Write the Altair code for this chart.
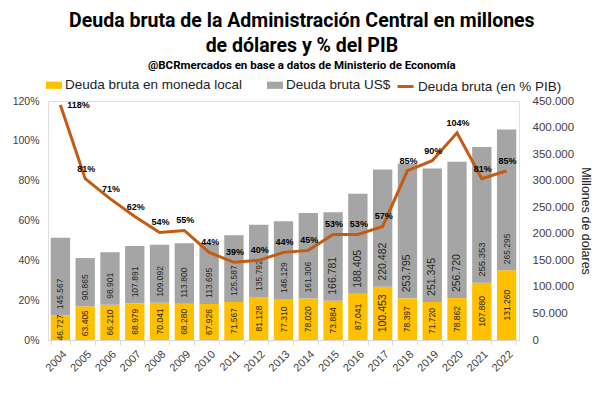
import altair as alt
import pandas as pd

years = [str(y) for y in range(2004, 2023)]
local = [46727, 63405, 66210, 68979, 70041, 68280, 67926, 71567, 81128, 77310,
         78020, 73884, 87041, 100453, 78397, 71720, 78862, 107880, 131260]
usd = [145567, 90865, 98901, 107891, 109092, 113800, 113695, 125587, 135792, 146129,
       161306, 166781, 188405, 220482, 253795, 251345, 256720, 255353, 265295]
pct = [118, 81, 71, 62, 54, 55, 44, 39, 40, 44, 45, 53, 53, 57, 85, 90, 104, 81, 85]

S_LOCAL = "Deuda bruta en moneda local"
S_USD = "Deuda bruta US$"
S_PCT = "Deuda bruta (en % PIB)"

wide = pd.DataFrame({"year": years, "yr": [int(y) for y in years],
                     "local": local, "usd": usd,
                     "pct": [p / 100 for p in pct], "series": S_PCT})

rows = []
for y, l, u in zip(years, local, usd):
    rows.append({"year": y, "series": S_LOCAL, "value": l, "ord": 0})
    rows.append({"year": y, "series": S_USD, "value": u, "ord": 1})
long = pd.DataFrame(rows)

FONT = "Liberation Sans"
TFONT = "Roboto"

xenc = alt.X("year:N", title=None,
             scale=alt.Scale(paddingInner=0.22, paddingOuter=0.11),
             axis=alt.Axis(labelAngle=-45, tickBand="extent", labelFontSize=11,
                           labelFont=FONT, labelColor="#404040", domainColor="#D9D9D9",
                           tickColor="#D9D9D9", tickSize=5, labelPadding=3))

leg_common = dict(orient="none", title=None, direction="horizontal",
                  labelFont=FONT, labelFontSize=13.5, labelColor="#222", labelLimit=300,
                  columnPadding=24, labelOffset=3, padding=0, legendY=-24)

color = alt.Color("series:N",
                  scale=alt.Scale(domain=[S_LOCAL, S_USD], range=["#FFC000", "#A5A5A5"]),
                  legend=alt.Legend(symbolType="M-1,-0.45H1V0.45H-1Z", symbolSize=256,
                                    symbolStrokeWidth=0, legendX=-2, **leg_common))

yright = alt.Scale(domain=[0, 450000])
AX_R = alt.Axis(orient="right", values=list(range(0, 450001, 50000)),
                labelExpr="replace(format(datum.value, ','), ',', '.')",
                title="Millones de dolares", titleFont=FONT, titleFontSize=12.5,
                titleFontWeight="normal", titleColor="#222", titlePadding=5,
                grid=False, domain=False, ticks=False, labelFont=FONT,
                labelFontSize=11.5, labelColor="#404040", labelPadding=13,
                labelOverlap=False)
left = alt.Scale(domain=[0, 1.2])
AX_L = alt.Axis(orient="left", format=".0%", values=[0, 0.2, 0.4, 0.6, 0.8, 1.0, 1.2],
                title=None, grid=False, domain=False, ticks=False,
                labelFont=FONT, labelFontSize=10.5, labelColor="#404040",
                labelPadding=9, labelOverlap=False)

bars = alt.Chart(long).mark_bar().encode(
    x=xenc,
    y=alt.Y("value:Q", stack="zero", scale=yright, axis=AX_R, title="Millones de dolares"),
    color=color,
    order=alt.Order("ord:Q"),
)

local_txt = alt.Chart(wide).transform_calculate(
    lab="replace(format(datum.local, ','), ',', '.')", ym="datum.local / 2",
    fs="datum.yr == 2017 ? 10.5 : 8.5"
).mark_text(angle=270, align="center", baseline="middle", font=FONT, color="#262626").encode(
    x=xenc, y=alt.Y("ym:Q", scale=yright, axis=AX_R, title="Millones de dolares"),
    text="lab:N", size=alt.Size("fs:Q", scale=None))
usd_txt = alt.Chart(wide).transform_calculate(
    lab="replace(format(datum.usd, ','), ',', '.')",
    fs="datum.yr >= 2015 && datum.yr <= 2020 ? 10.5 : (datum.yr == 2021 ? 9.5 : 8.5)"
).mark_text(angle=270, align="left", baseline="middle", dx=6, font=FONT, color="#262626").encode(
    x=xenc, y=alt.Y("local:Q", scale=yright, axis=AX_R, title="Millones de dolares"),
    text="lab:N", size=alt.Size("fs:Q", scale=None))

line = alt.Chart(wide).mark_line(strokeWidth=3).encode(
    x=xenc,
    y=alt.Y("pct:Q", scale=left, axis=AX_L, title=None),
    stroke=alt.Stroke("series:N", scale=alt.Scale(domain=[S_PCT], range=["#C55A11"]),
                      legend=alt.Legend(symbolType="stroke", symbolSize=256,
                                        symbolStrokeWidth=3, legendX=348, **leg_common)),
)
pct_lab = alt.Chart(wide).transform_calculate(lab="format(datum.pct, '.0%')")
pct_txt = pct_lab.transform_filter("datum.yr > 2004").mark_text(
    font=FONT, fontWeight="bold", fontSize=9, dy=-10, dx=1, color="black").encode(
    x=xenc, y=alt.Y("pct:Q", scale=left, axis=AX_L, title=None), text="lab:N")
pct_txt0 = pct_lab.transform_filter("datum.yr == 2004").mark_text(
    font=FONT, fontWeight="bold", fontSize=9, dx=18, dy=0, color="black").encode(
    x=xenc, y=alt.Y("pct:Q", scale=left, axis=AX_L, title=None), text="lab:N")

left_group = alt.layer(bars, local_txt, usd_txt)
right_group = alt.layer(line, pct_txt, pct_txt0)

chart = alt.layer(left_group, right_group).resolve_scale(y="independent").properties(
    width=584, height=377,
    autosize=alt.AutoSizeParams(type="fit", contains="padding"),
    title=alt.TitleParams(
        text=["Deuda bruta de la Administración Central en millones", "de dólares y % del PIB"],
        subtitle="@BCRmercados  en base a datos de Ministerio de Economía",
        font=TFONT, fontSize=19.5, fontWeight="bold", color="black", lineHeight=25,
        subtitleFont=TFONT, subtitleFontSize=11.5, subtitleFontWeight="bold",
        subtitleColor="black", subtitlePadding=3, anchor="middle", frame="bounds", offset=23),
    padding={"left": 4, "top": 3, "right": 0, "bottom": 11},
).configure_view(stroke=None).configure(background="white")

chart.save("out.html", embed_options={"renderer": "svg", "actions": False})
